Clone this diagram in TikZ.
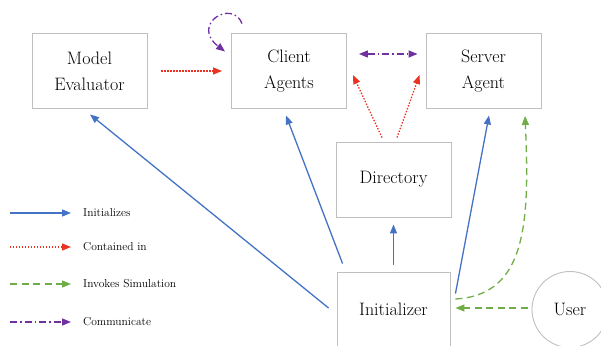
\documentclass[tikz,border=0pt]{standalone}
\usepackage{tikz}
\usetikzlibrary{arrows.meta,calc}
\definecolor{initblue}{HTML}{4472C4}
\definecolor{containred}{HTML}{EA3323}
\definecolor{invokegreen}{HTML}{70AD47}
\definecolor{commpurple}{HTML}{7030A0}
\definecolor{boxgray}{HTML}{BFBFBF}
\tikzset{
  sim/.style={>={Triangle[length=9pt,width=7pt]},
    x=1pt,y=1pt},
  component/.style={rectangle,draw=boxgray,line width=0.9pt,
    minimum width=115pt,minimum height=75pt,align=center,
    font=\fontsize{18}{26}\selectfont},
  actor/.style={circle,draw=boxgray,line width=0.9pt,minimum size=76pt,
    font=\fontsize{18}{26}\selectfont},
  legendtext/.style={anchor=west,inner sep=1pt,font=\fontsize{11.5}{14}\selectfont},
  initarrow/.style={->,draw=initblue,line width=1.3pt},
  containarrow/.style={->,draw=containred,line width=1.3pt,dash pattern=on 1.4pt off 1.6pt},
  invokearrow/.style={->,draw=invokegreen,line width=1.3pt,dash pattern=on 7pt off 4.5pt},
  commarrow/.style={->,draw=commpurple,line width=1.3pt,dash pattern=on 7pt off 3pt on 1.5pt off 3pt}
}
\begin{document}
\begin{tikzpicture}[sim]
  \useasboundingbox (0,0) rectangle (601,345);
  % components
  \node[component] (model) at (89.5,274) {Model\\Evaluator};
  \node[component] (client) at (289,274) {Client\\Agents};
  \node[component] (server) at (483.5,274) {Server\\Agent};
  \node[component] (dir) at (393.5,165.5) {Directory};
  \node[component,minimum width=113pt] (init) at (393.5,35.5) {Initializer};
  \node[actor] (user) at (570,35.5) {User};

  % initializes
  \draw[initarrow] ($(init.west)+(-8,1.5)$) -- ($(model.south)+(0.5,-5.5)$);
  \draw[initarrow] ($(init.north west)+(6,8)$) -- ($(client.south)+(-3,-6.5)$);
  \draw[initarrow] ($(init.north)+(0,7)$) -- ($(dir.south)+(0,-7)$);
  \draw[initarrow] ($(init.north east)+(5,-22)$) -- ($(server.south)+(5.5,-6.5)$);

  % contained in
  \draw[containarrow] ($(model.east)+(14,0)$) -- ($(client.west)+(-9,0)$);
  \draw[containarrow] ($(dir.north)+(-11.5,4)$) -- ($(client.east)+(6,-4)$);
  \draw[containarrow] ($(dir.north)+(3.5,4)$) -- ($(server.west)+(-6,-4)$);

  % communicate
  \draw[commarrow,<->] ($(client.east)+(12,17)$) -- ($(server.west)+(-8,17)$);
  \draw[commarrow] ($(client.north west)+(11,9.5)$) .. controls +(-10,25) and +(-35,27) .. ($(client.north west)+(-6,-18.5)$);

  % invokes simulation
  \draw[invokearrow] ($(user.west)+(-4,1.5)$) -- ($(init.east)+(5,1.5)$);
  \draw[invokearrow] ($(init.east)+(5,10.5)$) .. controls +(70,4) and +(5,-109.5) .. ($(server.south)+(41.5,-7)$);

  % legend
  \foreach \sty/\txt/\yy [count=\i] in {initarrow/Initializes/132,
      containarrow/Contained in/98,
      invokearrow/Invokes Simulation/61,
      commarrow/Communicate/23} {
    \node[legendtext] (key\i) at (82,\yy) {\txt};
    \coordinate (keystart\i) at (10,\yy);
    \draw[\sty] (keystart\i) -- ($(key\i.west)+(-11,0)$);
  }
\end{tikzpicture}
\end{document}
